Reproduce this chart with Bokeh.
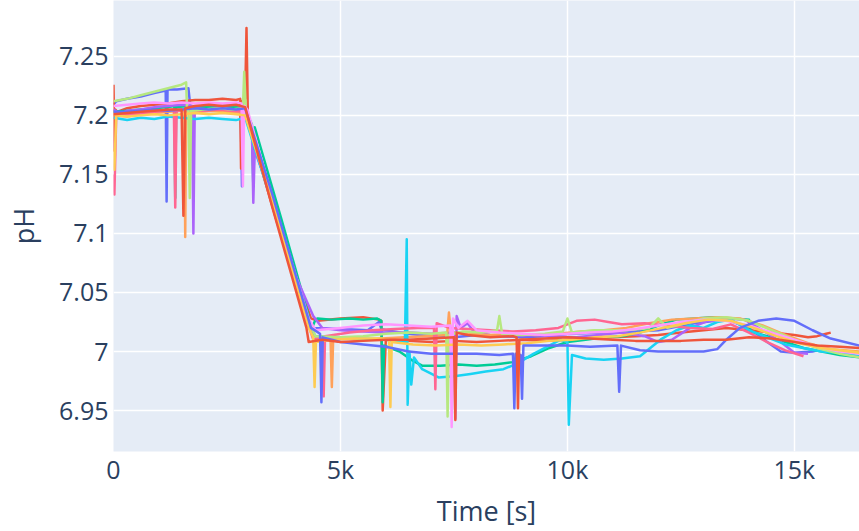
from bokeh.plotting import figure
from bokeh.models import Range1d, FixedTicker, CustomJSTickFormatter
from bokeh.embed import file_html
from bokeh.resources import INLINE

# pH traces, one per run: (time in s, pH)
run_01 = [(0, 7.209), (60, 7.212), (300, 7.214), (600, 7.216), (900, 7.219), (1150, 7.221),
          (1170, 7.127), (1190, 7.222), (1400, 7.222), (1650, 7.223), (1700, 7.205), (1750, 7.206),
          (2000, 7.207), (2400, 7.208), (2800, 7.208), (2830, 7.140), (2860, 7.203), (2950, 7.200),
          (3600, 7.110), (4300, 7.022), (4400, 7.020), (5000, 7.019), (5600, 7.018), (5850, 7.025),
          (5900, 7.019), (6000, 7.018), (6500, 7.015), (7000, 7.013), (7500, 7.012), (8000, 7.014),
          (8500, 7.013), (9000, 7.012), (9500, 7.013), (10000, 7.015), (11000, 7.016), (12000, 7.018),
          (12800, 7.024), (13500, 7.027), (14000, 7.020), (14400, 7.008), (14700, 7.000),
          (15000, 6.999), (15400, 7.000), (15500, 7.001)]

run_02 = [(0, 7.226), (20, 7.170), (40, 7.205), (80, 7.203), (300, 7.206), (600, 7.208),
          (900, 7.209), (1200, 7.210), (1500, 7.212), (1800, 7.213), (2100, 7.213), (2400, 7.214),
          (2700, 7.213), (2790, 7.214), (2810, 7.155), (2830, 7.212), (2900, 7.214), (2930, 7.274),
          (2960, 7.200), (2990, 7.190), (3600, 7.110), (4350, 7.028), (4500, 7.026), (5000, 7.028),
          (5500, 7.029), (5850, 7.027), (5900, 7.026), (5930, 6.950), (6000, 7.010), (6500, 7.009),
          (7000, 7.008), (7500, 7.009), (8000, 7.008), (8500, 7.009), (9000, 7.010), (9500, 7.009),
          (10000, 7.010), (10500, 7.011), (11000, 7.012), (11500, 7.013), (12000, 7.014),
          (12500, 7.016), (13000, 7.018), (13500, 7.020), (14000, 7.018), (14500, 7.016),
          (15000, 7.014), (15300, 7.012), (15500, 7.013), (15700, 7.015), (15800, 7.016)]

run_03 = [(0, 7.203), (300, 7.204), (600, 7.205), (900, 7.206), (1200, 7.207), (1340, 7.208),
          (1360, 7.130), (1380, 7.207), (1700, 7.208), (2000, 7.207), (2400, 7.206), (2700, 7.207),
          (2900, 7.205), (3050, 7.192), (3080, 7.140), (3110, 7.190), (3700, 7.112), (4300, 7.030),
          (4350, 7.018), (4450, 7.027), (4500, 7.028), (4800, 7.027), (5200, 7.028), (5500, 7.027),
          (5800, 7.028), (5900, 7.026), (5930, 6.957), (5960, 7.005), (6300, 7.000), (6600, 6.992),
          (6800, 6.988), (7200, 6.988), (7600, 6.989), (8000, 6.988), (8400, 6.989), (8800, 6.991),
          (9200, 6.996), (9600, 7.003), (10000, 7.008), (10400, 7.010), (10800, 7.012),
          (11200, 7.013), (11600, 7.016), (12000, 7.022), (12400, 7.027), (12800, 7.028),
          (13200, 7.029), (13600, 7.028), (14000, 7.027), (14030, 7.017), (14400, 7.013),
          (14800, 7.008), (15200, 7.003), (15600, 7.000), (16000, 6.997), (16434, 6.995)]

run_04 = [(0, 7.205), (150, 7.201), (300, 7.204), (600, 7.205), (900, 7.207), (1200, 7.208),
          (1500, 7.209), (1730, 7.208), (1760, 7.100), (1790, 7.206), (2100, 7.205), (2400, 7.206),
          (2700, 7.205), (2900, 7.204), (3050, 7.185), (3080, 7.126), (3110, 7.170), (3500, 7.130),
          (4000, 7.065), (4400, 7.030), (4600, 7.020), (5000, 7.018), (5500, 7.017), (6000, 7.016),
          (6500, 7.016), (7000, 7.015), (7500, 7.016), (7530, 6.943), (7560, 7.030), (7650, 7.020),
          (7800, 7.024), (7950, 7.016), (8300, 7.014), (8700, 7.013), (9200, 7.014), (9700, 7.013),
          (10200, 7.012), (10700, 7.014), (11200, 7.016), (11700, 7.013), (12000, 7.008),
          (12300, 7.010), (12700, 7.020), (13100, 7.026), (13500, 7.028), (13900, 7.027),
          (14300, 7.018), (14700, 7.008), (15000, 6.999), (15300, 6.998)]

run_05 = [(0, 7.200), (300, 7.199), (600, 7.201), (900, 7.202), (1200, 7.203), (1500, 7.204),
          (1560, 7.205), (1580, 7.097), (1600, 7.204), (1900, 7.203), (2200, 7.204), (2500, 7.203),
          (2900, 7.202), (3500, 7.128), (4300, 7.025), (4400, 7.013), (4780, 7.012), (4810, 6.970),
          (4840, 7.012), (5400, 7.010), (5900, 7.011), (6400, 7.012), (6900, 7.013), (7350, 7.014),
          (7390, 7.033), (7430, 7.016), (7800, 7.015), (8300, 7.014), (8800, 7.015), (9300, 7.014),
          (9800, 7.015), (10300, 7.017), (10800, 7.018), (11300, 7.020), (11800, 7.024),
          (12300, 7.027), (12800, 7.028), (13300, 7.029), (13800, 7.028), (14300, 7.022),
          (14800, 7.014), (15300, 7.007), (15800, 7.002), (16434, 7.000)]

run_06 = [(0, 7.198), (300, 7.196), (600, 7.198), (900, 7.197), (1200, 7.199), (1500, 7.198),
          (1800, 7.197), (2100, 7.198), (2400, 7.197), (2700, 7.196), (2900, 7.198), (3500, 7.125),
          (4300, 7.022), (4450, 7.013), (5000, 7.012), (5500, 7.011), (6000, 7.010), (6420, 7.008),
          (6460, 7.095), (6480, 6.955), (6520, 7.000), (6560, 6.972), (6620, 6.995), (6800, 6.985),
          (7160, 6.978), (7500, 6.979), (7865, 6.981), (8200, 6.983), (8590, 6.985), (8900, 6.990),
          (9250, 6.998), (9600, 7.005), (9850, 7.010), (10000, 7.008), (10030, 6.938),
          (10100, 6.997), (10400, 6.994), (10800, 6.993), (11200, 6.994), (11600, 6.996),
          (12050, 7.010), (12400, 7.018), (12700, 7.022), (13000, 7.020), (13300, 7.025),
          (13600, 7.027), (14000, 7.018), (14400, 7.012), (14800, 7.006), (15200, 7.003),
          (15600, 7.000), (16000, 6.999), (16434, 6.996)]

run_07 = [(0, 7.150), (20, 7.133), (60, 7.200), (300, 7.201), (600, 7.202), (900, 7.203),
          (1200, 7.204), (1330, 7.205), (1360, 7.122), (1390, 7.204), (1700, 7.205), (2000, 7.204),
          (2300, 7.205), (2600, 7.204), (2900, 7.203), (3500, 7.125), (4300, 7.022), (4400, 7.010),
          (4600, 7.012), (4630, 6.962), (4660, 7.013), (5200, 7.016), (5700, 7.018), (6200, 7.019),
          (6700, 7.020), (7060, 7.020), (7090, 6.968), (7120, 7.024), (7400, 7.020), (7800, 7.019),
          (8300, 7.018), (8800, 7.017), (9300, 7.018), (9800, 7.020), (10200, 7.026),
          (10600, 7.027), (10900, 7.025), (11200, 7.023), (11700, 7.024), (12200, 7.022),
          (12700, 7.020), (13200, 7.019), (13600, 7.023), (14000, 7.016), (14400, 7.008),
          (14800, 7.001), (15200, 6.996)]

run_08 = [(0, 7.212), (300, 7.214), (600, 7.217), (900, 7.220), (1200, 7.223), (1500, 7.226),
          (1600, 7.228), (1620, 7.205), (1650, 7.204), (1680, 7.130), (1710, 7.204), (2000, 7.205),
          (2300, 7.206), (2600, 7.205), (2850, 7.206), (2880, 7.237), (2920, 7.200), (3500, 7.128),
          (4300, 7.026), (4450, 7.013), (5000, 7.012), (5500, 7.013), (6000, 7.015), (6500, 7.016),
          (7000, 7.015), (7330, 7.016), (7360, 6.945), (7390, 7.014), (7700, 7.017), (8100, 7.016),
          (8450, 7.018), (8500, 7.030), (8560, 7.015), (9000, 7.014), (9500, 7.015), (9900, 7.017),
          (10000, 7.028), (10100, 7.016), (10600, 7.018), (11300, 7.018), (11800, 7.020),
          (12000, 7.028), (12200, 7.020), (12600, 7.024), (13000, 7.028), (13500, 7.029),
          (14000, 7.026), (14500, 7.018), (15000, 7.010), (15500, 7.003), (16000, 6.998),
          (16434, 6.995)]

run_09 = [(0, 7.208), (300, 7.209), (600, 7.210), (900, 7.211), (1200, 7.210), (1500, 7.211),
          (1800, 7.210), (2100, 7.211), (2400, 7.210), (2700, 7.211), (2820, 7.210), (2850, 7.140),
          (2880, 7.208), (2950, 7.205), (3500, 7.130), (4300, 7.028), (4450, 7.018), (5000, 7.020),
          (5500, 7.022), (6000, 7.023), (6500, 7.022), (7000, 7.021), (7420, 7.022), (7450, 6.936),
          (7480, 7.028), (7600, 7.020), (7800, 7.026), (8000, 7.018), (8500, 7.016), (9000, 7.015),
          (9500, 7.014), (10000, 7.015), (10500, 7.016), (11000, 7.017), (11500, 7.019),
          (12000, 7.022), (12500, 7.025), (13000, 7.027), (13500, 7.026), (14000, 7.022),
          (14500, 7.016), (15000, 7.010), (15500, 7.004), (16000, 7.000), (16434, 6.998)]

run_10 = [(0, 7.172), (20, 7.154), (60, 7.200), (300, 7.199), (600, 7.200), (900, 7.201),
          (1200, 7.200), (1500, 7.201), (1800, 7.202), (2100, 7.201), (2400, 7.202), (2700, 7.201),
          (2900, 7.200), (3500, 7.127), (4300, 7.020), (4400, 7.012), (4430, 6.970), (4460, 7.008),
          (4800, 7.010), (5300, 7.011), (5900, 7.011), (6070, 7.010), (6100, 6.953), (6130, 7.008),
          (6600, 7.006), (7100, 7.005), (7600, 7.006), (8100, 7.005), (8600, 7.006), (9100, 7.007),
          (9600, 7.009), (10100, 7.010), (10600, 7.012), (11100, 7.013), (11600, 7.016),
          (12100, 7.020), (12600, 7.024), (13100, 7.027), (13600, 7.026), (14100, 7.020),
          (14600, 7.013), (15100, 7.007), (15600, 7.003), (16000, 7.001), (16434, 6.999)]

run_11 = [(0, 7.203), (300, 7.203), (600, 7.204), (900, 7.205), (1200, 7.204), (1500, 7.205),
          (1800, 7.206), (2100, 7.205), (2400, 7.206), (2700, 7.205), (2900, 7.206), (3500, 7.133),
          (4350, 7.020), (4550, 7.015), (4580, 6.957), (4610, 7.012), (5000, 7.008), (5500, 7.006),
          (6000, 7.004), (6500, 7.000), (7000, 6.998), (7500, 6.998), (8000, 6.998), (8500, 6.997),
          (8800, 6.998), (8830, 6.952), (8860, 6.998), (8970, 6.997), (9000, 6.960), (9030, 7.005),
          (9500, 7.005), (10000, 7.005), (10500, 7.004), (11100, 7.005), (11140, 6.966),
          (11180, 7.005), (11600, 7.001), (12000, 7.000), (12500, 7.000), (13000, 7.000),
          (13300, 7.002), (13500, 7.010), (13800, 7.020), (14200, 7.026), (14600, 7.028),
          (15000, 7.026), (15400, 7.018), (15800, 7.011), (16434, 7.005)]

run_12 = [(0, 7.201), (300, 7.202), (600, 7.203), (900, 7.204), (1200, 7.205), (1500, 7.205),
          (1540, 7.115), (1580, 7.206), (1800, 7.208), (2100, 7.209), (2400, 7.208), (2700, 7.209),
          (2900, 7.207), (3500, 7.122), (4250, 7.020), (4300, 7.008), (4600, 7.010), (5000, 7.008),
          (5500, 7.009), (6000, 7.010), (6500, 7.010), (7000, 7.011), (7500, 7.012), (7530, 6.942),
          (7560, 7.016), (7800, 7.014), (8300, 7.012), (8800, 7.013), (8880, 7.012), (8910, 6.952),
          (8940, 7.010), (9500, 7.011), (10000, 7.012), (10500, 7.011), (11000, 7.010),
          (11500, 7.009), (12000, 7.009), (12500, 7.009), (13000, 7.010), (13500, 7.010),
          (14000, 7.012), (14500, 7.011), (15000, 7.008), (15500, 7.005), (16000, 7.004),
          (16434, 7.003)]

runs = [run_01, run_02, run_03, run_04, run_05, run_06,
        run_07, run_08, run_09, run_10, run_11, run_12]

colors = ["#636efa", "#EF553B", "#00cc96", "#ab63fa", "#FFA15A", "#19d3f3",
          "#FF6692", "#B6E880", "#FF97FF", "#FECB52", "#636efa", "#EF553B"]

x_ticks = [0, 5000, 10000, 15000]
y_ticks = [6.95, 7.0, 7.05, 7.1, 7.15, 7.2, 7.25]

FONT = "Open Sans"
TEXT = "#2a3f5f"

p = figure(width=859, height=531, output_backend="svg", toolbar_location=None,
           x_range=Range1d(0, 16434), y_range=Range1d(6.9153, 7.2973),
           min_border_left=113, min_border_right=0, min_border_top=0, min_border_bottom=79)

p.background_fill_color = "#E5ECF6"
p.border_fill_color = "white"
p.outline_line_color = None

for run, color in zip(runs, colors):
    t = [pt[0] for pt in run]
    ph = [pt[1] for pt in run]
    p.line(t, ph, line_color=color, line_width=2.5, line_join="round")

p.xaxis.ticker = FixedTicker(ticks=x_ticks)
p.yaxis.ticker = FixedTicker(ticks=y_ticks)
p.xaxis.formatter = CustomJSTickFormatter(code="return tick === 0 ? '0' : (tick / 1000) + 'k';")
p.yaxis.formatter = CustomJSTickFormatter(code="return String(parseFloat(tick.toFixed(2)));")

p.grid.grid_line_color = "white"
p.grid.grid_line_width = 1.5

for ax in (p.xaxis, p.yaxis):
    ax.axis_line_color = None
    ax.major_tick_line_color = None
    ax.minor_tick_line_color = None
    ax.major_tick_in = 0
    ax.major_tick_out = 0
    ax.minor_tick_in = 0
    ax.minor_tick_out = 0
    ax.major_label_text_font = FONT
    ax.major_label_text_font_size = "25px"
    ax.major_label_text_color = TEXT
    ax.axis_label_text_font = FONT
    ax.axis_label_text_font_size = "27px"
    ax.axis_label_text_color = TEXT
    ax.axis_label_text_font_style = "normal"

p.xaxis.axis_label = "Time [s]"
p.yaxis.axis_label = "pH"
p.xaxis.major_label_standoff = 0
p.yaxis.major_label_standoff = 5
p.xaxis.axis_label_standoff = 3
p.yaxis.axis_label_standoff = 14

open("out.html", "w").write(file_html(p, INLINE))
